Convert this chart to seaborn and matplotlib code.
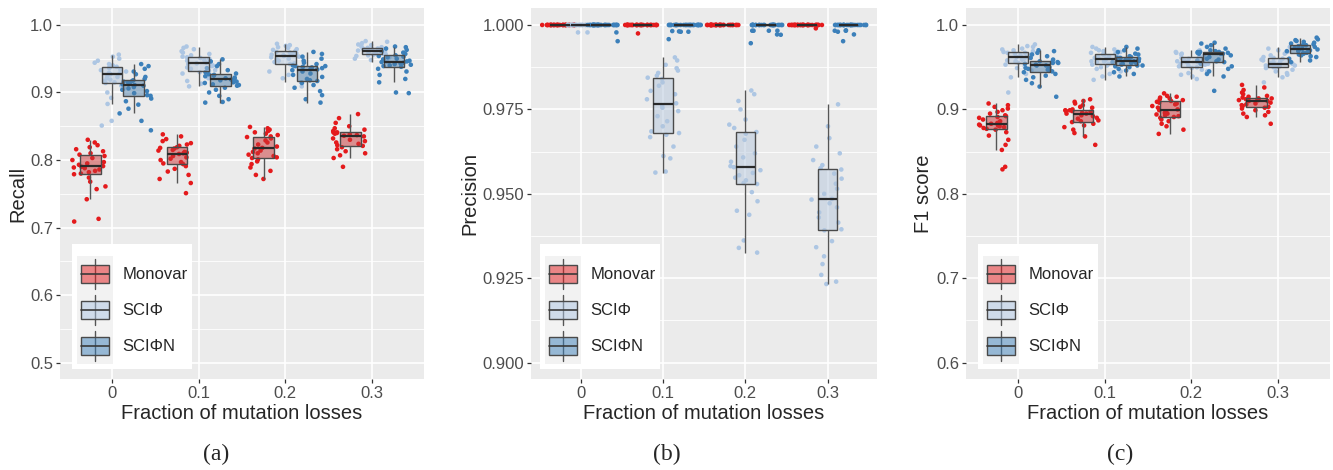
import numpy as np
import pandas as pd
import matplotlib
matplotlib.use("Agg")
import matplotlib.pyplot as plt
import seaborn as sns
from matplotlib.ticker import MultipleLocator, AutoMinorLocator, FormatStrFormatter
from matplotlib.legend_handler import HandlerBase
from matplotlib.patches import Rectangle, Patch
from matplotlib.lines import Line2D

# categories
LOSSES = ["0", "0.1", "0.2", "0.3"]
METHODS = ["Monovar", "SCIΦ", "SCIΦN"]
POINT_COLORS = ["#E41A1C", "#ADC6E3", "#3C80BA"]

# ---- (a) Recall, one list per loss fraction ----
recall_monovar = [
    [0.709, 0.713, 0.742, 0.757, 0.761, 0.768, 0.774, 0.779, 0.780, 0.782, 0.784, 0.786, 0.788, 0.789, 0.790,
     0.791, 0.793, 0.795, 0.797, 0.800, 0.803, 0.806, 0.808, 0.810, 0.813, 0.816, 0.819, 0.822, 0.826, 0.830],
    [0.751, 0.766, 0.772, 0.778, 0.783, 0.787, 0.791, 0.794, 0.795, 0.797, 0.800, 0.802, 0.804, 0.806, 0.809,
     0.810, 0.811, 0.812, 0.814, 0.815, 0.817, 0.818, 0.819, 0.821, 0.823, 0.825, 0.828, 0.831, 0.835, 0.838],
    [0.772, 0.778, 0.784, 0.789, 0.794, 0.798, 0.801, 0.803, 0.804, 0.806, 0.808, 0.810, 0.812, 0.814, 0.817,
     0.818, 0.820, 0.823, 0.826, 0.829, 0.832, 0.834, 0.835, 0.837, 0.839, 0.841, 0.843, 0.845, 0.847, 0.849],
    [0.790, 0.803, 0.807, 0.810, 0.813, 0.816, 0.819, 0.821, 0.822, 0.824, 0.826, 0.828, 0.830, 0.832, 0.835,
     0.836, 0.837, 0.838, 0.839, 0.840, 0.840, 0.841, 0.841, 0.843, 0.845, 0.847, 0.850, 0.855, 0.862, 0.868],
]
recall_sciphi = [
    [0.851, 0.858, 0.883, 0.892, 0.900, 0.906, 0.910, 0.914, 0.915, 0.917, 0.919, 0.921, 0.923, 0.925, 0.927,
     0.928, 0.929, 0.931, 0.933, 0.934, 0.936, 0.937, 0.938, 0.940, 0.942, 0.944, 0.947, 0.950, 0.953, 0.956],
    [0.909, 0.913, 0.917, 0.921, 0.925, 0.928, 0.930, 0.932, 0.933, 0.935, 0.937, 0.939, 0.940, 0.942, 0.943,
     0.944, 0.945, 0.947, 0.948, 0.950, 0.951, 0.952, 0.953, 0.955, 0.957, 0.959, 0.961, 0.964, 0.966, 0.968],
    [0.909, 0.915, 0.921, 0.926, 0.931, 0.935, 0.939, 0.942, 0.943, 0.945, 0.947, 0.949, 0.950, 0.952, 0.953,
     0.954, 0.955, 0.956, 0.957, 0.958, 0.959, 0.960, 0.961, 0.963, 0.964, 0.966, 0.967, 0.969, 0.970, 0.972],
    [0.945, 0.948, 0.950, 0.952, 0.954, 0.955, 0.956, 0.957, 0.957, 0.958, 0.959, 0.960, 0.961, 0.961, 0.962,
     0.962, 0.963, 0.963, 0.964, 0.964, 0.965, 0.965, 0.966, 0.967, 0.968, 0.970, 0.971, 0.973, 0.975, 0.976],
]
recall_sciphin = [
    [0.844, 0.858, 0.869, 0.876, 0.882, 0.887, 0.891, 0.895, 0.896, 0.899, 0.902, 0.904, 0.906, 0.908, 0.910,
     0.911, 0.912, 0.913, 0.914, 0.915, 0.916, 0.917, 0.918, 0.920, 0.923, 0.927, 0.931, 0.935, 0.939, 0.942],
    [0.885, 0.886, 0.890, 0.895, 0.900, 0.904, 0.907, 0.910, 0.911, 0.912, 0.914, 0.915, 0.916, 0.918, 0.919,
     0.920, 0.921, 0.922, 0.924, 0.925, 0.926, 0.927, 0.928, 0.930, 0.933, 0.936, 0.939, 0.942, 0.946, 0.949],
    [0.885, 0.890, 0.896, 0.902, 0.907, 0.911, 0.914, 0.917, 0.918, 0.920, 0.923, 0.926, 0.928, 0.931, 0.933,
     0.934, 0.935, 0.936, 0.937, 0.938, 0.939, 0.939, 0.940, 0.942, 0.944, 0.947, 0.950, 0.953, 0.957, 0.960],
    [0.899, 0.900, 0.915, 0.920, 0.926, 0.931, 0.935, 0.938, 0.939, 0.940, 0.941, 0.942, 0.943, 0.944, 0.945,
     0.946, 0.947, 0.949, 0.950, 0.952, 0.953, 0.954, 0.955, 0.957, 0.959, 0.961, 0.963, 0.965, 0.967, 0.968],
]

# ---- (b) Precision ----
precision_monovar = [
    [1.0, 1.0, 1.0, 1.0, 1.0, 1.0, 1.0, 1.0, 1.0, 1.0, 1.0, 1.0, 1.0, 1.0, 1.0, 1.0,
     1.0, 1.0, 1.0, 1.0, 1.0, 1.0, 1.0, 1.0, 1.0, 1.0, 1.0, 1.0, 1.0, 1.0, 1.0, 1.0],
    [0.9975, 1.0, 1.0, 1.0, 1.0, 1.0, 1.0, 1.0, 1.0, 1.0, 1.0, 1.0, 1.0, 1.0, 1.0, 1.0,
     1.0, 1.0, 1.0, 1.0, 1.0, 1.0, 1.0, 1.0, 1.0, 1.0, 1.0, 1.0, 1.0, 1.0, 1.0, 1.0],
    [1.0, 1.0, 1.0, 1.0, 1.0, 1.0, 1.0, 1.0, 1.0, 1.0, 1.0, 1.0, 1.0, 1.0, 1.0, 1.0,
     1.0, 1.0, 1.0, 1.0, 1.0, 1.0, 1.0, 1.0, 1.0, 1.0, 1.0, 1.0, 1.0, 1.0, 1.0, 1.0],
    [0.9990, 1.0, 1.0, 1.0, 1.0, 1.0, 1.0, 1.0, 1.0, 1.0, 1.0, 1.0, 1.0, 1.0, 1.0, 1.0,
     1.0, 1.0, 1.0, 1.0, 1.0, 1.0, 1.0, 1.0, 1.0, 1.0, 1.0, 1.0, 1.0, 1.0, 1.0, 1.0],
]
precision_sciphi = [
    [0.9978, 0.9978, 1.0, 1.0, 1.0, 1.0, 1.0, 1.0, 1.0, 1.0, 1.0, 1.0, 1.0, 1.0, 1.0, 1.0,
     1.0, 1.0, 1.0, 1.0, 1.0, 1.0, 1.0, 1.0, 1.0, 1.0, 1.0, 1.0, 1.0, 1.0, 1.0, 1.0],
    [0.9563, 0.9566, 0.9605, 0.9612, 0.9640, 0.9668, 0.9675, 0.9680, 0.9685, 0.9700, 0.9715, 0.9730, 0.9745, 0.9755, 0.9762,
     0.9768, 0.9780, 0.9795, 0.9805, 0.9820, 0.9830, 0.9840, 0.9844, 0.9850, 0.9858, 0.9865, 0.9872, 0.9882, 0.9895, 0.9904],
    [0.9326, 0.9340, 0.9362, 0.9438, 0.9450, 0.9478, 0.9505, 0.9529, 0.9532, 0.9540, 0.9548, 0.9555, 0.9562, 0.9570, 0.9579,
     0.9582, 0.9595, 0.9608, 0.9620, 0.9640, 0.9660, 0.9678, 0.9683, 0.9695, 0.9705, 0.9720, 0.9750, 0.9775, 0.9795, 0.9806],
    [0.9233, 0.9240, 0.9260, 0.9292, 0.9315, 0.9342, 0.9360, 0.9392, 0.9395, 0.9415, 0.9430, 0.9445, 0.9460, 0.9472, 0.9483,
     0.9485, 0.9500, 0.9515, 0.9530, 0.9545, 0.9560, 0.9572, 0.9576, 0.9585, 0.9600, 0.9620, 0.9640, 0.9665, 0.9700, 0.9765],
]
precision_sciphin = [
    [0.9978, 0.9952, 1.0, 1.0, 1.0, 1.0, 1.0, 1.0, 1.0, 1.0, 1.0, 1.0, 1.0, 1.0, 1.0, 1.0,
     1.0, 1.0, 1.0, 1.0, 1.0, 1.0, 1.0, 1.0, 1.0, 1.0, 1.0, 1.0, 1.0, 1.0, 1.0, 1.0],
    [0.9980, 0.9982, 0.9980, 0.9981, 0.9958, 1.0, 1.0, 1.0, 1.0, 1.0, 1.0, 1.0, 1.0, 1.0, 1.0, 1.0,
     1.0, 1.0, 1.0, 1.0, 1.0, 1.0, 1.0, 1.0, 1.0, 1.0, 1.0, 1.0, 1.0, 1.0, 1.0, 1.0],
    [0.9983, 0.9983, 0.9972, 0.9971, 0.9946, 0.9983, 0.9983, 1.0, 1.0, 1.0, 1.0, 1.0, 1.0, 1.0, 1.0, 1.0,
     1.0, 1.0, 1.0, 1.0, 1.0, 1.0, 1.0, 1.0, 1.0, 1.0, 1.0, 1.0, 1.0, 1.0, 1.0, 1.0],
    [0.9984, 0.9980, 0.9983, 0.9983, 0.9952, 0.9972, 1.0, 1.0, 1.0, 1.0, 1.0, 1.0, 1.0, 1.0, 1.0, 1.0,
     1.0, 1.0, 1.0, 1.0, 1.0, 1.0, 1.0, 1.0, 1.0, 1.0, 1.0, 1.0, 1.0, 1.0, 1.0, 1.0],
]

# ---- (c) F1 score ----
f1_monovar = [
    [0.829, 0.832, 0.852, 0.858, 0.864, 0.869, 0.873, 0.876, 0.877, 0.878, 0.879, 0.880, 0.881, 0.881, 0.882,
     0.883, 0.884, 0.886, 0.888, 0.890, 0.891, 0.892, 0.893, 0.895, 0.897, 0.899, 0.901, 0.903, 0.905, 0.907],
    [0.858, 0.868, 0.872, 0.876, 0.879, 0.881, 0.883, 0.885, 0.886, 0.887, 0.889, 0.890, 0.892, 0.893, 0.895,
     0.895, 0.896, 0.897, 0.898, 0.898, 0.899, 0.899, 0.900, 0.902, 0.903, 0.905, 0.907, 0.909, 0.910, 0.912],
    [0.871, 0.876, 0.880, 0.883, 0.886, 0.888, 0.890, 0.891, 0.892, 0.893, 0.894, 0.895, 0.896, 0.897, 0.899,
     0.900, 0.902, 0.904, 0.906, 0.907, 0.908, 0.909, 0.910, 0.911, 0.912, 0.913, 0.914, 0.915, 0.916, 0.919],
    [0.883, 0.891, 0.893, 0.895, 0.897, 0.899, 0.901, 0.902, 0.903, 0.904, 0.905, 0.906, 0.907, 0.908, 0.910,
     0.910, 0.911, 0.911, 0.912, 0.912, 0.913, 0.913, 0.914, 0.915, 0.916, 0.918, 0.920, 0.923, 0.926, 0.929],
]
f1_sciphi = [
    [0.920, 0.938, 0.942, 0.946, 0.949, 0.951, 0.953, 0.955, 0.956, 0.957, 0.958, 0.959, 0.960, 0.961, 0.962,
     0.962, 0.963, 0.964, 0.965, 0.966, 0.967, 0.967, 0.968, 0.969, 0.970, 0.971, 0.972, 0.974, 0.975, 0.977],
    [0.935, 0.939, 0.942, 0.945, 0.948, 0.950, 0.952, 0.953, 0.954, 0.955, 0.956, 0.957, 0.957, 0.958, 0.959,
     0.960, 0.961, 0.962, 0.963, 0.964, 0.965, 0.965, 0.966, 0.967, 0.968, 0.969, 0.970, 0.971, 0.972, 0.974],
    [0.936, 0.939, 0.941, 0.943, 0.945, 0.947, 0.949, 0.950, 0.951, 0.952, 0.953, 0.954, 0.954, 0.955, 0.956,
     0.956, 0.957, 0.958, 0.959, 0.960, 0.961, 0.961, 0.962, 0.963, 0.964, 0.965, 0.966, 0.967, 0.968, 0.970],
    [0.932, 0.938, 0.941, 0.943, 0.945, 0.947, 0.949, 0.950, 0.950, 0.951, 0.951, 0.952, 0.952, 0.953, 0.953,
     0.954, 0.955, 0.956, 0.957, 0.958, 0.959, 0.960, 0.961, 0.962, 0.964, 0.966, 0.968, 0.970, 0.972, 0.974],
]
f1_sciphin = [
    [0.915, 0.927, 0.931, 0.935, 0.938, 0.940, 0.942, 0.944, 0.945, 0.946, 0.947, 0.948, 0.949, 0.950, 0.952,
     0.952, 0.953, 0.954, 0.955, 0.955, 0.956, 0.956, 0.957, 0.959, 0.961, 0.963, 0.965, 0.967, 0.969, 0.970],
    [0.939, 0.942, 0.944, 0.946, 0.948, 0.950, 0.951, 0.952, 0.952, 0.953, 0.954, 0.955, 0.955, 0.956, 0.957,
     0.957, 0.958, 0.959, 0.960, 0.960, 0.961, 0.961, 0.962, 0.963, 0.965, 0.966, 0.968, 0.970, 0.972, 0.974],
    [0.922, 0.939, 0.942, 0.945, 0.948, 0.951, 0.954, 0.956, 0.957, 0.958, 0.959, 0.960, 0.962, 0.964, 0.966,
     0.966, 0.966, 0.967, 0.967, 0.967, 0.968, 0.968, 0.968, 0.969, 0.970, 0.972, 0.974, 0.976, 0.978, 0.979],
    [0.956, 0.958, 0.960, 0.962, 0.963, 0.964, 0.965, 0.966, 0.967, 0.967, 0.968, 0.969, 0.969, 0.970, 0.971,
     0.971, 0.972, 0.973, 0.974, 0.975, 0.976, 0.976, 0.977, 0.978, 0.979, 0.980, 0.981, 0.982, 0.983, 0.985],
]


def to_long(monovar, sciphi, sciphin):
    rows = []
    for method, groups in zip(METHODS, [monovar, sciphi, sciphin]):
        for loss, vals in zip(LOSSES, groups):
            for v in vals:
                rows.append((loss, method, v))
    return pd.DataFrame(rows, columns=["loss", "method", "value"])


class BoxKey(HandlerBase):
    # ggplot-like boxplot legend key
    def create_artists(self, legend, orig, xd, yd, w, h, fontsize, trans):
        x0, y0 = -xd, -yd
        bg = Rectangle((x0, y0), w, h, facecolor="#F2F2F2", edgecolor="none", transform=trans)
        cx = x0 + w / 2
        wh = Line2D([cx, cx], [y0 + 0.08 * h, y0 + 0.92 * h], color="#555555", lw=1.0, transform=trans)
        box = Rectangle((x0 + 0.11 * w, y0 + 0.25 * h), 0.78 * w, 0.5 * h,
                        facecolor=orig.get_facecolor(), edgecolor="#4a4a4a", lw=1.0, transform=trans)
        med = Line2D([x0 + 0.11 * w, x0 + 0.89 * w], [y0 + h / 2, y0 + h / 2], color="#3a3a3a", lw=1.2,
                     transform=trans)
        return [bg, wh, box, med]


sns.set_theme(style="darkgrid", rc={
    "axes.facecolor": "#EBEBEB",
    "grid.color": "white",
    "axes.edgecolor": "none",
    "xtick.color": "#333333",
    "ytick.color": "#333333",
    "xtick.labelcolor": "#4D4D4D",
    "ytick.labelcolor": "#4D4D4D",
    "xtick.bottom": True,
    "ytick.left": True,
})
plt.rcParams["font.family"] = ["Liberation Sans", "DejaVu Sans"]

fig = plt.figure(figsize=(13.33, 4.70), dpi=100)

panels = [
    ("Recall", to_long(recall_monovar, recall_sciphi, recall_sciphin),
     [0.0450, 0.1936, 0.2731, 0.7894], (0.476, 1.025), 0.1, "%.1f", 0.033, "(a)", 216),
    ("Precision", to_long(precision_monovar, precision_sciphi, precision_sciphin),
     [0.3984, 0.1936, 0.2596, 0.7894], (0.89517, 1.00503), 0.025, "%.3f", 0.026, "(b)", 667),
    ("F1 score", to_long(f1_monovar, f1_sciphi, f1_sciphin),
     [0.7247, 0.1936, 0.2731, 0.7894], (0.5807, 1.0201), 0.1, "%.1f", 0.033, "(c)", 1120),
]

np.random.seed(7)
for ylabel, df, pos, ylim, step, fmt, legx, tag, tagx in panels:
    ax = fig.add_axes(pos)
    sns.stripplot(data=df, x="loss", y="value", hue="method", order=LOSSES, hue_order=METHODS,
                  palette=POINT_COLORS, dodge=True, jitter=0.6, size=3.3, linewidth=0,
                  legend=False, ax=ax)
    sns.boxplot(data=df, x="loss", y="value", hue="method", order=LOSSES, hue_order=METHODS,
                palette=POINT_COLORS, width=0.75, gap=0.06, showfliers=False,
                linecolor="#4a4a4a", linewidth=1.0,
                whiskerprops={"color": "#555555"}, capprops={"linewidth": 0},
                medianprops={"linewidth": 1.6, "color": "#2a2a2a"},
                legend=False, ax=ax)
    # semi-transparent box fill over the points, lines on top
    for p in ax.patches:
        fc = p.get_facecolor()
        p.set_facecolor((fc[0], fc[1], fc[2], 0.5))
        p.set_zorder(3)
    for ln in ax.lines:
        ln.set_zorder(4)

    ax.set_xlim(-0.6, 3.6)
    ax.set_ylim(*ylim)
    ax.yaxis.set_major_locator(MultipleLocator(step))
    ax.yaxis.set_minor_locator(AutoMinorLocator(2))
    ax.yaxis.set_major_formatter(FormatStrFormatter(fmt))
    ax.grid(True, which="major", color="white", linewidth=1.2)
    ax.yaxis.grid(True, which="minor", color="white", linewidth=0.6)
    ax.set_axisbelow(True)
    ax.tick_params(which="major", length=3, width=0.9, labelsize=12, pad=2)
    ax.tick_params(which="minor", length=0)
    ax.set_xlabel("Fraction of mutation losses", fontsize=14.5, labelpad=2)
    ax.set_ylabel(ylabel, fontsize=14.5, labelpad=2)

    handles = [Patch(facecolor=(*matplotlib.colors.to_rgb(c), 0.5), label=m)
               for c, m in zip(POINT_COLORS, METHODS)]
    leg = ax.legend(handles=handles, handler_map={Patch: BoxKey()}, loc="lower left",
                    bbox_to_anchor=(legx, 0.027), borderaxespad=0, fontsize=12,
                    title=" ", title_fontsize=6, handlelength=2.16, handleheight=2.95,
                    handletextpad=0.55, labelspacing=0, borderpad=0.3,
                    frameon=True, fancybox=False, framealpha=1)
    leg.get_frame().set_facecolor("white")
    leg.get_frame().set_edgecolor("none")

    fig.text(tagx / 1333, 1 - 454 / 470, tag, ha="center", va="center",
             fontsize=17, family="Liberation Serif")

fig.savefig("out.png", dpi=100)
